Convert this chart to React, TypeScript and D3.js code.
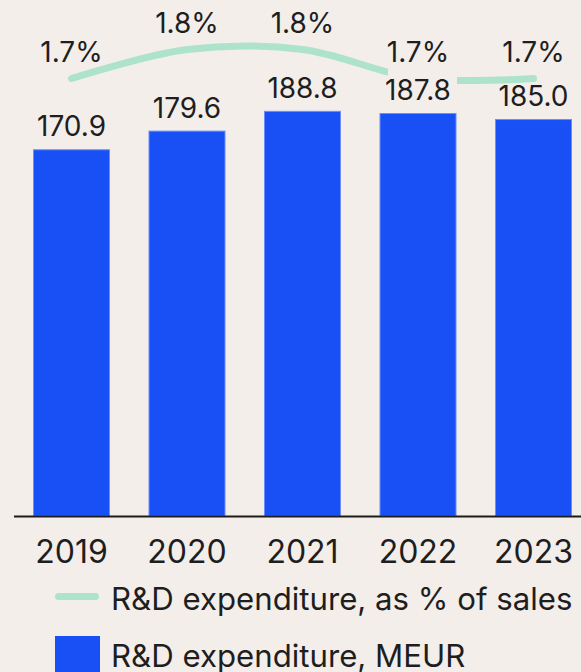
import * as d3 from "d3";
import { useEffect } from "react";

const W = 581;
const H = 672;
const BASE = 516;

const YEARS = ["2019", "2020", "2021", "2022", "2023"];
const MEUR = [170.9, 179.6, 188.8, 187.8, 185.0];
const PCT = [1.7, 1.8, 1.8, 1.7, 1.7];
// bar labels that knock the line out behind them
const HALO = ["2022"];

const LEGEND = ["R&D expenditure, as % of sales", "R&D expenditure, MEUR"];

const BG = "#f3eeea";
const BLUE = "#1850f5";
const MINT = "#ade3cb";
const INK = "#1e1e1e";
const FONT = "Inter, 'Noto Sans', sans-serif";

export default function App() {
  useEffect(() => {
    document.body.style.margin = "0";
    document.body.style.background = BG;
  }, []);

  const x = d3.scaleBand<string>().domain(YEARS).range([33, 572]).paddingInner(1 / 3).paddingOuter(0);
  const y = d3.scaleLinear().domain([0, 240]).range([BASE, 1]);
  const yp = d3.scaleLinear().domain([1.7, 1.8]).range([78.5, 49.5]);
  const cx = (yr: string) => (x(yr) ?? 0) + x.bandwidth() / 2;

  const pts = YEARS.map((yr, i) => [cx(yr), yp(PCT[i])] as [number, number]);
  const linePath = d3.line().curve(d3.curveCatmullRom)(pts) ?? "";

  // approx text width for halo rects (Inter 28px digits)
  const labelW = 70;

  return (
    <svg
      width={W}
      height={H}
      viewBox={`0 0 ${W} ${H}`}
      style={{ position: "absolute", left: 0, top: 0, display: "block" }}
    >
      <rect width={W} height={H} fill={BG} />

      {/* Bars */}
      {YEARS.map((yr, i) => (
        <rect
          key={yr}
          x={(x(yr) ?? 0) + 0.5}
          y={y(MEUR[i]) + 0.5}
          width={x.bandwidth() - 1}
          height={BASE - y(MEUR[i]) - 0.5}
          fill={BLUE}
          stroke="#6d8ef8"
          strokeWidth={1}
        />
      ))}

      {/* % of sales line */}
      <path d={linePath} fill="none" stroke={MINT} strokeWidth={7} strokeLinecap="round" />

      {/* Bar value labels */}
      {YEARS.map((yr, i) => {
        const by = y(MEUR[i]) - 13;
        return (
          <g key={`v${yr}`}>
            {HALO.includes(yr) && (
              <rect x={cx(yr) - labelW / 2 + 5} y={by - 37} width={labelW - 1} height={37} fill={BG} />
            )}
            <text x={cx(yr)} y={by} textAnchor="middle" fontSize={28} fontFamily={FONT} fill={INK}>
              {MEUR[i].toFixed(1)}
            </text>
          </g>
        );
      })}

      {/* % labels */}
      {YEARS.map((yr, i) => (
        <text
          key={`p${yr}`}
          x={cx(yr)}
          y={yp(PCT[i]) - 17}
          textAnchor="middle"
          fontSize={28}
          fontFamily={FONT}
          fill={INK}
        >
          {`${PCT[i].toFixed(1)}%`}
        </text>
      ))}

      {/* Axis */}
      <line x1={14} x2={W} y1={BASE + 0.5} y2={BASE + 0.5} stroke="#1c1c1c" strokeWidth={2} />
      {YEARS.map((yr) => (
        <text key={`x${yr}`} x={cx(yr)} y={563} textAnchor="middle" fontSize={32} fontFamily={FONT} fill={INK}>
          {yr}
        </text>
      ))}

      {/* Legend */}
      <line x1={58.5} x2={95.5} y1={596.5} y2={596.5} stroke={MINT} strokeWidth={7} strokeLinecap="round" />
      <text x={111} y={610} fontSize={31.2} fontFamily={FONT} fill={INK}>
        {LEGEND[0]}
      </text>
      <rect x={55} y={636} width={45} height={45} fill={BLUE} />
      <text x={111} y={667} fontSize={31.2} fontFamily={FONT} fill={INK}>
        {LEGEND[1]}
      </text>
    </svg>
  );
}
